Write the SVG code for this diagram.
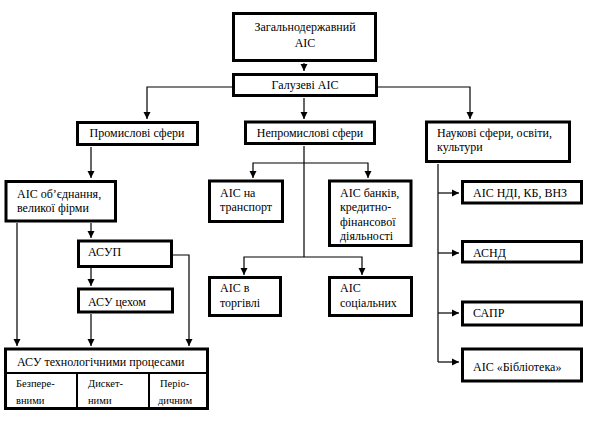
<svg xmlns="http://www.w3.org/2000/svg" width="589" height="426" viewBox="0 0 589 426">
<defs>
<marker id="ah" markerUnits="userSpaceOnUse" markerWidth="8" markerHeight="8" refX="7" refY="4" orient="auto">
<path d="M0,0.5 L7,4 L0,7.5 z" fill="#000"/>
</marker>
<style>
rect.b{fill:#fff;stroke:#000;stroke-width:3}
line.d{stroke:#000;stroke-width:2}
text{font-family:'Liberation Serif','Times New Roman','DejaVu Serif',serif;font-size:12px;fill:#000}
text.s{font-size:10.5px}
.c{text-anchor:middle}
#connectors path{fill:none;stroke:#000;stroke-width:1.2}
</style>
</defs>
<rect width="589" height="426" fill="#fff"/>
<g id="connectors">
<path d="M304,63 V71" marker-end="url(#ah)"/>
<path d="M232,87 H147 V119" marker-end="url(#ah)"/>
<path d="M304,98 V119" marker-end="url(#ah)"/>
<path d="M378,87 H470 V119" marker-end="url(#ah)"/>
<path d="M91,147 V178" marker-end="url(#ah)"/>
<path d="M304,146 V257"/>
<path d="M304,163 H253 V178" marker-end="url(#ah)"/>
<path d="M304,163 H368 V178" marker-end="url(#ah)"/>
<path d="M304,257 H244 V275" marker-end="url(#ah)"/>
<path d="M304,257 H362 V275" marker-end="url(#ah)"/>
<path d="M91,223 V238" marker-end="url(#ah)"/>
<path d="M17,223 V346" marker-end="url(#ah)"/>
<path d="M173,255 H189 V346" marker-end="url(#ah)"/>
<path d="M91,268 V286" marker-end="url(#ah)"/>
<path d="M91,314 V346" marker-end="url(#ah)"/>
<path d="M438,164 V362"/>
<path d="M438,193 H459" marker-end="url(#ah)"/>
<path d="M438,253 H459" marker-end="url(#ah)"/>
<path d="M438,313 H459" marker-end="url(#ah)"/>
<path d="M438,362 H459" marker-end="url(#ah)"/>
</g>
<g font-family="Liberation Serif, Times New Roman, DejaVu Serif, serif">
<g id="n-top"><rect class="b" x="233.5" y="13.5" width="142" height="47"/><text class="c" x="305" y="31">Загальнодержавний</text><text class="c" x="305" y="47">АІС</text></g>
<g id="n-galuz"><rect class="b" x="233.5" y="74.5" width="143" height="21"/><text class="c" x="305" y="89">Галузеві АІС</text></g>
<g id="n-prom"><rect class="b" x="77.5" y="122.5" width="120" height="22"/><text class="c" x="137" y="137">Промислові сфери</text></g>
<g id="n-neprom"><rect class="b" x="245.5" y="122" width="129" height="21.5"/><text class="c" x="310" y="137">Непромислові сфери</text></g>
<g id="n-nauk"><rect class="b" x="426.5" y="122" width="143" height="39.5"/><text x="437" y="137">Наукові сфери, освіти,</text><text x="437" y="151">культури</text></g>
<g id="n-obyed"><rect class="b" x="6" y="181.5" width="109.5" height="39.5"/><text x="17" y="198">АІС об’єднання,</text><text x="17" y="212">великої фірми</text></g>
<g id="n-transp"><rect class="b" x="209.5" y="181" width="73" height="40.5"/><text x="220" y="197">АІС на</text><text x="220" y="211">транспорт</text></g>
<g id="n-bank"><rect class="b" x="329.5" y="181" width="81.5" height="64.5"/><text x="340" y="197">АІС банків,</text><text x="340" y="211">кредитно-</text><text x="340" y="226">фінансової</text><text x="340" y="240">діяльності</text></g>
<g id="n-ndi"><rect class="b" x="462.5" y="181.5" width="119" height="21.5"/><text x="473" y="197">АІС НДІ, КБ, ВНЗ</text></g>
<g id="n-asup"><rect class="b" x="78.5" y="241" width="93" height="25.5"/><text x="88" y="256">АСУП</text></g>
<g id="n-asnd"><rect class="b" x="462.5" y="241.5" width="119" height="20.5"/><text x="473" y="257">АСНД</text></g>
<g id="n-torg"><rect class="b" x="209.5" y="277.5" width="71" height="38"/><text x="220" y="292">АІС в</text><text x="220" y="307">торгівлі</text></g>
<g id="n-soc"><rect class="b" x="329.5" y="277.5" width="82" height="38"/><text x="340" y="292">АІС</text><text x="340" y="307">соціальних</text></g>
<g id="n-tsekh"><rect class="b" x="78.5" y="289" width="94" height="23"/><text x="88" y="306">АСУ цехом</text></g>
<g id="n-sapr"><rect class="b" x="462.5" y="302" width="119" height="23"/><text x="473" y="317">САПР</text></g>
<g id="n-bibl"><rect class="b" x="462.5" y="349" width="119" height="32"/><text x="473" y="371">АІС «Бібліотека»</text></g>
<g id="n-asutp"><rect class="b" x="5.5" y="349" width="202" height="59.5"/><line class="d" x1="5" y1="373" x2="208" y2="373"/><line class="d" x1="77" y1="373" x2="77" y2="409"/><line class="d" x1="149" y1="373" x2="149" y2="409"/><text x="17" y="366">АСУ технологічними процесами</text><text class="s" x="16" y="387">Безпере-</text><text class="s" x="16" y="404">вними</text><text class="s" x="88" y="387">Дискет-</text><text class="s" x="88" y="404">ними</text><text class="s" x="160" y="387">Періо-</text><text class="s" x="158" y="404">дичним</text></g>
</g>
</svg>
